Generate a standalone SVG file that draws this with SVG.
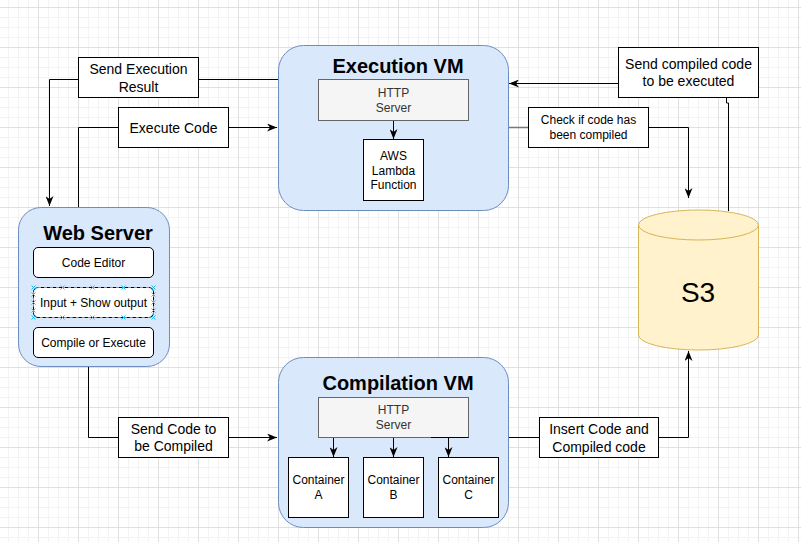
<svg xmlns="http://www.w3.org/2000/svg" width="801" height="542" viewBox="0 0 801 542">
<style>
text{font-family:"Liberation Sans",Arial,sans-serif;fill:#000}
.t14{font-size:14px;text-anchor:middle}
.t12{font-size:12px;text-anchor:middle}
.title{font-size:20px;font-weight:bold;text-anchor:middle}
.gray{fill:#333}
.vm{fill:#dae8fc;stroke:#6c8ebf;stroke-width:1}
.http{fill:#f5f5f5;stroke:#666666;stroke-width:1}
.box{fill:#fff;stroke:#000;stroke-width:1}
.edge{fill:none;stroke:#000;stroke-width:1}
.h{stroke:#29b6f2;stroke-width:1;fill:none}
</style>
<defs>
<pattern id="grid" x="38" y="7" width="40" height="40" patternUnits="userSpaceOnUse">
<path d="M10.5,0V40M20.5,0V40M30.5,0V40M0,10.5H40M0,20.5H40M0,30.5H40" stroke="#f3f3f3" stroke-width="1" fill="none"/>
<path d="M0.5,0V40M0,0.5H40" stroke="#e0e0e0" stroke-width="1" fill="none"/>
</pattern>
<marker id="arr" viewBox="0 0 10 8" refX="10" refY="4" markerWidth="10" markerHeight="8" orient="auto" markerUnits="userSpaceOnUse">
<path d="M0,0 L10,4 L0,8 L3,4 z" fill="#000"/>
</marker>
</defs>
<rect width="801" height="542" fill="#fff"/>
<rect width="801" height="542" fill="url(#grid)"/>

<g id="execution-vm">
<rect class="vm" x="278.5" y="45.5" width="230" height="165" rx="25"/>
<text class="title" x="398" y="73">Execution VM</text>
<g id="exec-http">
<rect class="http" x="318.5" y="79.5" width="150" height="41"/>
<text class="t12 gray" x="393.5" y="97">HTTP</text>
<text class="t12 gray" x="393.5" y="112">Server</text>
</g>
<g id="aws-lambda">
<rect class="box" x="363.5" y="139.5" width="60" height="61"/>
<text class="t12" x="393.5" y="160">AWS</text>
<text class="t12" x="393.5" y="174.5">Lambda</text>
<text class="t12" x="393.5" y="189">Function</text>
</g>
</g>

<g id="compilation-vm">
<rect class="vm" x="278.5" y="357.5" width="230" height="170" rx="25"/>
<text class="title" x="398" y="390">Compilation VM</text>
<g id="comp-http">
<rect class="http" x="318.5" y="397.5" width="150" height="40"/>
<text class="t12 gray" x="393.5" y="414">HTTP</text>
<text class="t12 gray" x="393.5" y="429">Server</text>
</g>
<g id="container-a">
<rect class="box" x="288.5" y="457.5" width="60" height="60"/>
<text class="t12" x="318.5" y="484">Container</text>
<text class="t12" x="318.5" y="499">A</text>
</g>
<g id="container-b">
<rect class="box" x="363.5" y="457.5" width="60" height="60"/>
<text class="t12" x="393.5" y="484">Container</text>
<text class="t12" x="393.5" y="499">B</text>
</g>
<g id="container-c">
<rect class="box" x="438.5" y="457.5" width="60" height="60"/>
<text class="t12" x="468.5" y="484">Container</text>
<text class="t12" x="468.5" y="499">C</text>
</g>
</g>

<g id="web-server">
<rect class="vm" x="18.5" y="207.5" width="151" height="159" rx="22.6"/>
<text class="title" x="98" y="239.5">Web Server</text>
<g id="code-editor">
<rect class="box" x="33.5" y="247.5" width="120" height="30" rx="4.5"/>
<text class="t12" x="93.5" y="267">Code Editor</text>
</g>
<g id="input-output">
<rect class="box" x="33.5" y="287.5" width="120" height="30" rx="4.5"/>
<rect x="33.5" y="287.5" width="120" height="30" rx="4.5" fill="none" stroke="#29b6f2" stroke-width="1" stroke-dasharray="3,3"/>
<text class="t12" x="93.5" y="307">Input + Show output</text>
<path class="h" d="M31.5,285.5l4,4m0,-4l-4,4M60.5,285.5l4,4m0,-4l-4,4M90.5,285.5l4,4m0,-4l-4,4M121.5,285.5l4,4m0,-4l-4,4M151.5,285.5l4,4m0,-4l-4,4M31.5,315.5l4,4m0,-4l-4,4M60.5,315.5l4,4m0,-4l-4,4M90.5,315.5l4,4m0,-4l-4,4M121.5,315.5l4,4m0,-4l-4,4M151.5,315.5l4,4m0,-4l-4,4M31.5,292.5l4,4m0,-4l-4,4M31.5,300.5l4,4m0,-4l-4,4M31.5,308.5l4,4m0,-4l-4,4M151.5,292.5l4,4m0,-4l-4,4M151.5,300.5l4,4m0,-4l-4,4M151.5,308.5l4,4m0,-4l-4,4"/>
</g>
<g id="compile-execute">
<rect class="box" x="33.5" y="327.5" width="120" height="30" rx="4.5"/>
<text class="t12" x="93.5" y="347">Compile or Execute</text>
</g>
</g>

<g id="s3">
<path d="M638.5,225 A60,15 0 0 1 758.5,225 V335 A60,15 0 0 1 638.5,335 Z" fill="#fff2cc" stroke="#d6b656" stroke-width="1"/>
<path d="M638.5,225 A60,15 0 0 0 758.5,225" fill="none" stroke="#d6b656" stroke-width="1"/>
<text x="698" y="302" font-size="28" text-anchor="middle">S3</text>
</g>

<g id="connectors">
<path class="edge" d="M278,79.5H198.5M78.5,79.5H49.5V206" marker-end="url(#arr)"/>
<path class="edge" d="M78.5,207V127.5H118.5M228.5,127.5H277" marker-end="url(#arr)"/>
<path class="edge" d="M88.5,367V437.5H118.5M228.5,437.5H277" marker-end="url(#arr)"/>
<path d="M509,127.5H528.5" stroke="#777" stroke-width="1.5" fill="none"/>
<path class="edge" d="M648.5,127.5H688.5V198" marker-end="url(#arr)"/>
<path class="edge" d="M728.5,211V103H726.5V97.5"/>
<path class="edge" d="M618.5,83.5H509" marker-end="url(#arr)"/>
<path class="edge" d="M509,437.5H539.5M658.5,437.5H688.5V351" marker-end="url(#arr)"/>
<path class="edge" d="M393.5,121V139" marker-end="url(#arr)"/>
<path class="edge" d="M333.5,438V457" marker-end="url(#arr)"/>
<path class="edge" d="M393.5,438V457" marker-end="url(#arr)"/>
<path class="edge" d="M431,437.5H468.5M448.5,438V457" marker-end="url(#arr)"/>
</g>

<g id="label-send-exec-result">
<rect class="box" x="78.5" y="57.5" width="120" height="40"/>
<text class="t14" x="138.5" y="74">Send Execution</text>
<text class="t14" x="138.5" y="91.5">Result</text>
</g>
<g id="label-execute-code">
<rect class="box" x="118.5" y="107.5" width="110" height="40"/>
<text class="t14" x="173.5" y="132.5">Execute Code</text>
</g>
<g id="label-send-code-compiled">
<rect class="box" x="118.5" y="417.5" width="110" height="40"/>
<text class="t14" x="173.5" y="434">Send Code to</text>
<text class="t14" x="173.5" y="451">be Compiled</text>
</g>
<g id="label-check-compiled">
<rect class="box" x="528.5" y="107.5" width="120" height="40"/>
<text class="t12" x="588.5" y="124">Check if code has</text>
<text class="t12" x="588.5" y="138.5">been compiled</text>
</g>
<g id="label-send-compiled">
<rect class="box" x="618.5" y="47.5" width="140" height="50"/>
<text class="t14" x="688.5" y="69">Send compiled code</text>
<text class="t14" x="688.5" y="86">to be executed</text>
</g>
<g id="label-insert-code">
<rect class="box" x="539.5" y="417.5" width="119" height="40"/>
<text class="t14" x="599" y="434">Insert Code and</text>
<text class="t14" x="599" y="451.5">Compiled code</text>
</g>
</svg>
